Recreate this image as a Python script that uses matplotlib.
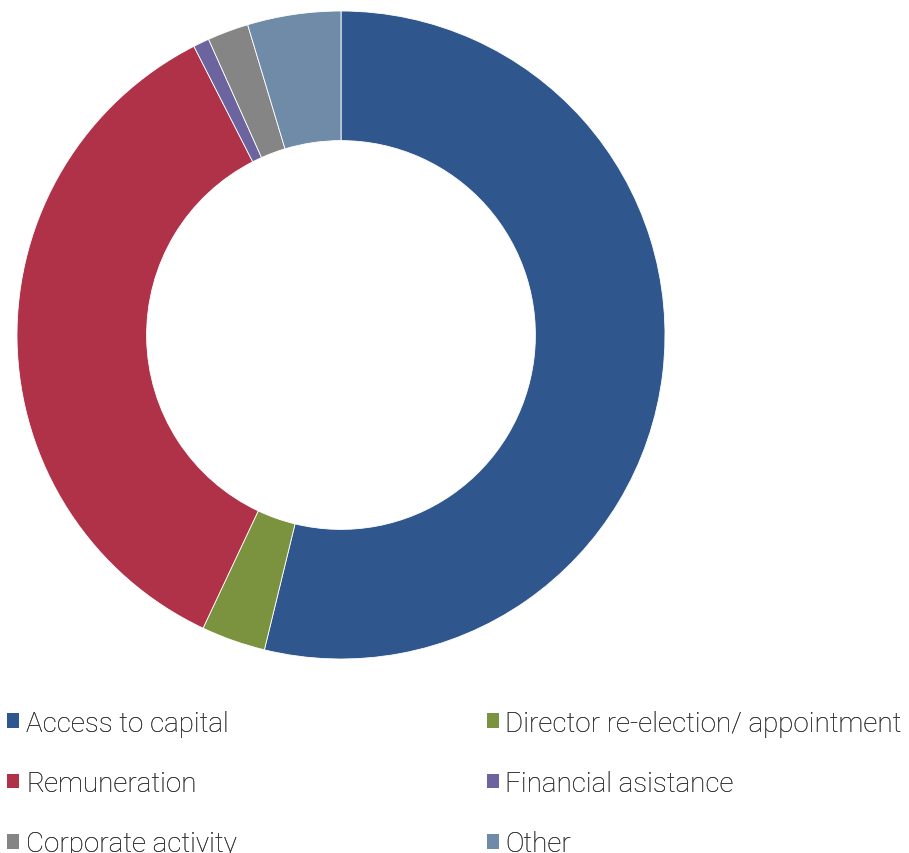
import matplotlib.pyplot as plt
from matplotlib.patches import Patch

# доли по категориям (оценка по картинке, %)
categories = ['Access to capital', 'Director re-election/ appointment', 'Remuneration',
              'Financial asistance', 'Corporate activity', 'Other']
shares = [53.8, 3.2, 35.5, 0.8, 2.05, 4.65]
colors = ['#2F578D', '#7B923F', '#AF3249', '#6C649E', '#858585', '#6F8BA7']

W, H = 909, 854
fig = plt.figure(figsize=(W / 100, H / 100), dpi=100)

# кольцо: центр (341, 336), радиус 324 px
cx, cy, r = 341, 336, 324
ax = fig.add_axes([(cx - r) / W, (H - cy - r) / H, 2 * r / W, 2 * r / H])
ax.pie(shares, colors=colors, startangle=90, counterclock=False,
       wedgeprops=dict(width=0.4, edgecolor='white', linewidth=0.6))
ax.set_xlim(-1, 1)
ax.set_ylim(-1, 1)
ax.set_aspect('equal')
ax.axis('off')

# легенда: два столбца, каждый отдельной легендой
fs = 20
leg_kw = dict(loc='upper left', frameon=False, labelcolor='#333333',
              handlelength=0.42, handleheight=0.42, handletextpad=0.25,
              labelspacing=1.2, borderaxespad=0, borderpad=0.2,
              prop={'family': 'Roboto', 'size': fs, 'weight': 'light'})
top = 1 - 705 / H
for idx, x0 in [([0, 2, 4], 0.002), ([1, 3, 5], 0.5295)]:
    handles = [Patch(facecolor=colors[i], edgecolor='none') for i in idx]
    leg = fig.legend(handles, [categories[i] for i in idx],
                     bbox_to_anchor=(x0, top), **leg_kw)
    fig.add_artist(leg)

fig.savefig('out.png', dpi=100)
